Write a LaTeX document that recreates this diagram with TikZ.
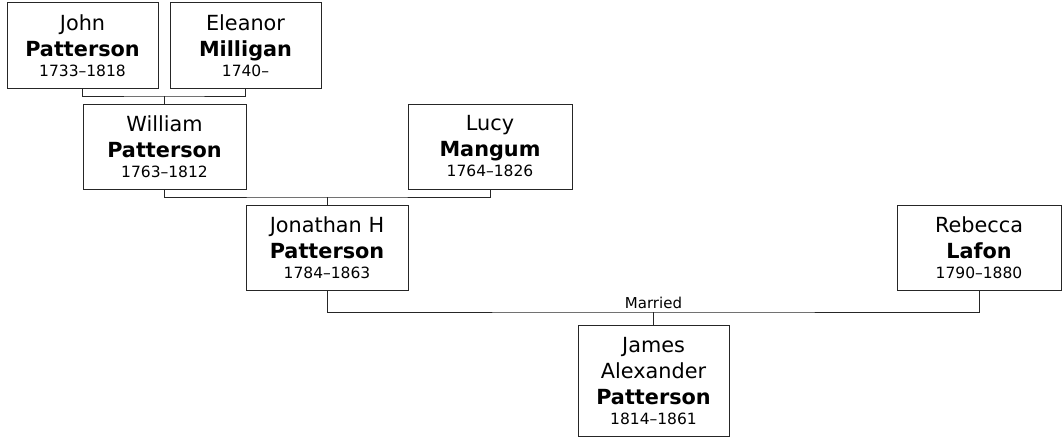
\documentclass[tikz,border=0pt]{standalone}
\usepackage{fontspec}
\setmainfont{DejaVu Sans}
\usetikzlibrary{positioning}

\newcommand{\yrs}[1]{{\fontsize{15.5}{20}\selectfont #1}}

\begin{document}
\begin{tikzpicture}[x=1pt,y=-1pt,
  person/.style={draw=black!85,line width=1pt,fill=white,align=center,inner sep=0pt,
    minimum height=85pt,font=\fontsize{20.8}{26}\selectfont},
  link/.style={draw=black!85,line width=1pt},
  lbl/.style={font=\fontsize{15}{18}\selectfont,inner sep=0pt}]
\useasboundingbox (0,0) rectangle (1062,444);

\node[person,minimum width=151pt] (john) at (82.5,45.5) {John\\\textbf{Patterson}\\[-6pt]\yrs{1733–1818}};
\node[person,minimum width=151pt] (eleanor) at (245.5,45.5) {Eleanor\\\textbf{Milligan}\\[-6pt]\yrs{1740–}};
\node[person,minimum width=163pt] (william) at (164.5,147) {William\\\textbf{Patterson}\\[-6pt]\yrs{1763–1812}};
\node[person,minimum width=164pt] (lucy) at (490,146.5) {Lucy\\\textbf{Mangum}\\[-6pt]\yrs{1764–1826}};
\node[person,minimum width=162pt] (jonathan) at (327,248) {Jonathan H\\\textbf{Patterson}\\[-6pt]\yrs{1784–1863}};
\node[person,minimum width=164pt] (rebecca) at (979,248) {Rebecca\\\textbf{Lafon}\\[-6pt]\yrs{1790–1880}};
\node[person,minimum width=151pt,minimum height=111pt] (james) at (653.5,381) {James\\Alexander\\\textbf{Patterson}\\[-6pt]\yrs{1814–1861}};

\coordinate (c1) at (164.5,96);
\coordinate (c2) at (327,197);
\coordinate (c3) at (653.5,312);

\draw[link] (john.south) |- (c1) -| (eleanor.south);
\draw[link] (c1) -- (william.north);
\draw[link] (william.south) |- (c2) -| (lucy.south);
\draw[link] (c2) -- (jonathan.north);
\draw[link] (jonathan.south) |- (c3) -| (rebecca.south);
\draw[link] (c3) -- (james.north);
\node[lbl,anchor=base] (married) at (653.5,308) {Married};

\end{tikzpicture}
\end{document}
